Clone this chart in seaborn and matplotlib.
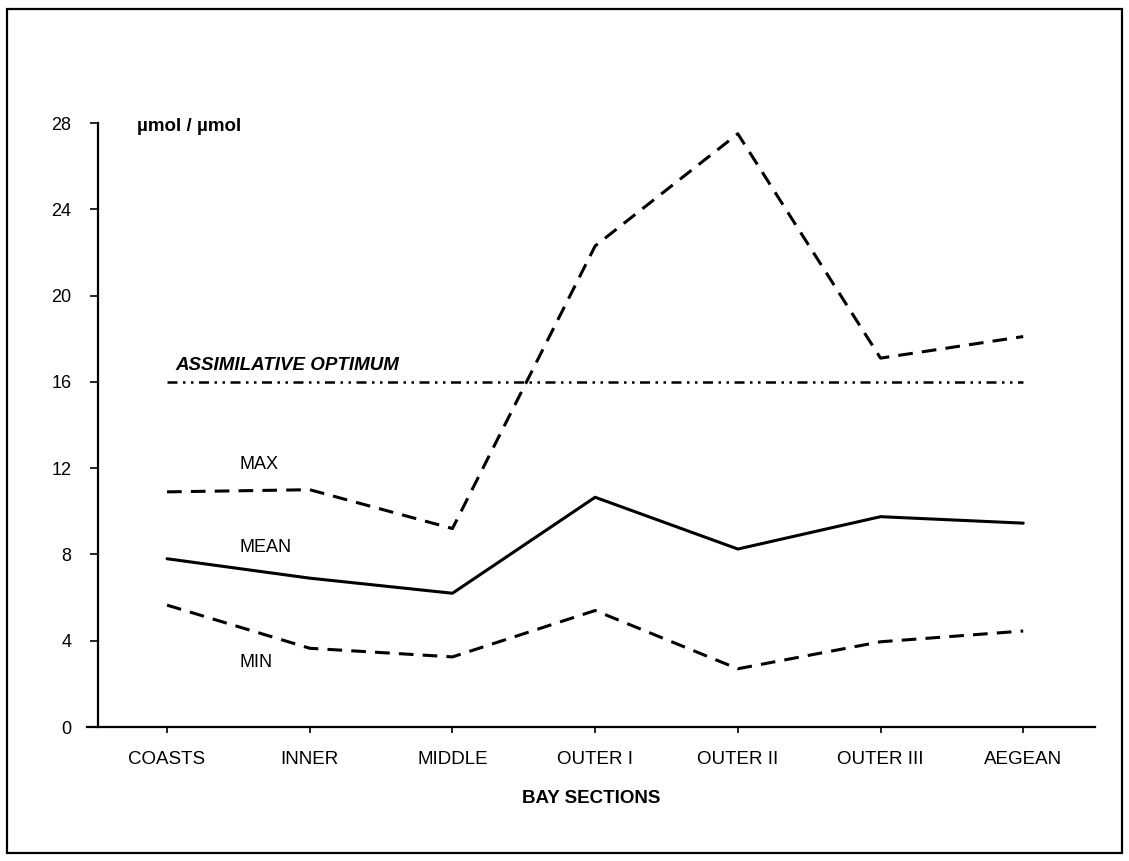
import matplotlib
matplotlib.use("Agg")
import matplotlib.pyplot as plt
import matplotlib.patches as mpatches
import numpy as np
import pandas as pd
import seaborn as sns

# Bay sections along the x axis
SECTIONS = ["COASTS", "INNER", "MIDDLE", "OUTER I", "OUTER II", "OUTER III", "AEGEAN"]

# N/P ratio (µmol / µmol) per section
MAX_VALUES = [10.9, 11.0, 9.2, 22.3, 27.5, 17.1, 18.1]
MEAN_VALUES = [7.8, 6.9, 6.2, 10.65, 8.25, 9.75, 9.45]
MIN_VALUES = [5.65, 3.65, 3.25, 5.4, 2.7, 3.95, 4.45]
OPTIMUM_VALUES = [16, 16, 16, 16, 16, 16, 16]

Y_TICKS = [0, 4, 8, 12, 16, 20, 24, 28]

sns.set_theme(style="white")
plt.rcParams["font.family"] = ["Liberation Sans", "DejaVu Sans"]
plt.rcParams["text.color"] = "black"
plt.rcParams["axes.labelcolor"] = "black"

W, H = 1129, 861
fig = plt.figure(figsize=(W / 100, H / 100), dpi=100)
ax = fig.add_axes([87 / W, 1 - 727 / H, (1095 - 87) / W, (727 - 123) / H])

xpos = np.arange(len(SECTIONS))
frames = []
for name, vals in [("MAX", MAX_VALUES), ("MEAN", MEAN_VALUES), ("MIN", MIN_VALUES)]:
    frames.append(pd.DataFrame({"x": xpos, "value": vals, "series": name}))
df = pd.concat(frames, ignore_index=True)

sns.lineplot(
    data=df, x="x", y="value", style="series",
    dashes={"MAX": (4.8, 3.0), "MEAN": "", "MIN": (4.8, 3.0)},
    color="black", linewidth=2.2, legend=False, ax=ax,
)

opt = sns.lineplot(x=xpos, y=OPTIMUM_VALUES, color="black", linewidth=1.8,
                   legend=False, ax=ax)
opt.lines[-1].set_dashes((4.0, 2.2, 1.0, 2.2, 1.0, 2.2))

ax.set_xlim(-0.561, 6.503)
ax.set_ylim(0, 28)
ax.set_xticks(xpos)
ax.set_xticklabels(SECTIONS)
ax.set_yticks(Y_TICKS)
ax.set_yticklabels([str(t) for t in Y_TICKS])

for s in ["top", "right"]:
    ax.spines[s].set_visible(False)
ax.spines["left"].set_position(("data", -0.484))
for s in ["left", "bottom"]:
    ax.spines[s].set_color("black")
    ax.spines[s].set_linewidth(1.6)

ax.tick_params(axis="y", direction="out", length=6, width=1.2, pad=13,
               labelsize=13, colors="black", left=True)
ax.tick_params(axis="x", direction="out", length=4, width=1.2, pad=13,
               labelsize=13.5, colors="black", bottom=True)

ax.set_xlabel("BAY SECTIONS", fontsize=13.5, fontweight="bold", labelpad=16)
ax.set_ylabel("")

ax.text(-0.21, 27.85, "µmol / µmol", fontsize=13.5, fontweight="bold",
        va="center", ha="left")
ax.text(0.06, 16.55, "ASSIMILATIVE OPTIMUM", fontsize=13.5, fontweight="bold",
        fontstyle="italic", va="baseline", ha="left")
ax.text(0.51, 12.15, "MAX", fontsize=13, va="center", ha="left")
ax.text(0.51, 8.3, "MEAN", fontsize=13, va="center", ha="left")
ax.text(0.51, 2.97, "MIN", fontsize=13, va="center", ha="left")

# Outer frame around the whole figure
frame = mpatches.Rectangle((7 / W, 1 - 853 / H), (1122 - 7) / W, (853 - 9) / H,
                           transform=fig.transFigure, fill=False,
                           edgecolor="black", linewidth=1.6)
fig.patches.append(frame)

fig.savefig("out.png", dpi=100)
